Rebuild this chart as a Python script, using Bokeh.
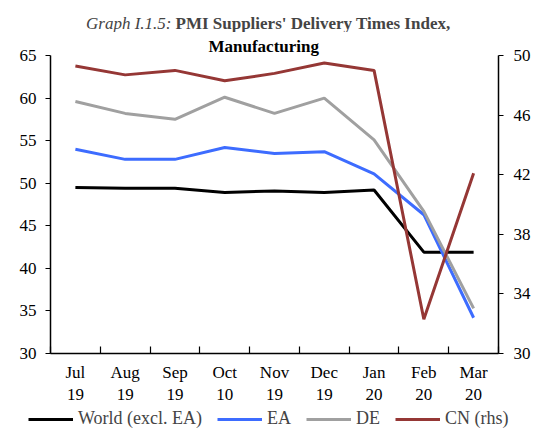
from bokeh.plotting import figure
from bokeh.layouts import column
from bokeh.models import Range1d, LinearAxis, FixedTicker, Legend, LegendItem, Label, Title
from bokeh.embed import file_html
from bokeh.resources import INLINE

months = ["Jul\n19", "Aug\n19", "Sep\n19", "Oct\n10", "Nov\n19", "Dec\n19", "Jan\n20", "Feb\n20", "Mar\n20"]
world = [49.5, 49.4, 49.4, 48.9, 49.1, 48.9, 49.2, 41.9, 41.9]
ea = [54.0, 52.8, 52.8, 54.2, 53.5, 53.7, 51.1, 46.3, 34.2]
de = [59.6, 58.2, 57.5, 60.1, 58.2, 60.0, 55.1, 46.7, 35.3]
cn = [49.3, 48.7, 49.0, 48.3, 48.8, 49.5, 49.0, 32.3, 42.1]
left_ticks = [30, 35, 40, 45, 50, 55, 60, 65]
right_ticks = [30, 34, 38, 42, 46, 50]
series_names = ["World (excl. EA)", "EA", "DE", "CN (rhs)"]
series_colors = ["black", "#3d6cff", "#a0a0a0", "#953735"]
series_values = [world, ea, de, cn]

FONT = "Liberation Serif"
FS = "17px"
xs = [i + 0.5 for i in range(len(months))]
bounds = list(range(len(months) + 1))

# ---- title strip (line 1) ----
tf = figure(width=538, height=32, output_backend="svg", toolbar_location=None,
            x_range=Range1d(50, 498), y_range=Range1d(0, 32), min_border=0)
tf.axis.visible = False
tf.grid.visible = False
tf.outline_line_color = None
tf.add_layout(Label(x=171, y=9, text="Graph I.1.5:", text_font=FONT, text_font_style="italic",
                    text_font_size=FS, text_baseline="middle", text_align="right"))
tf.add_layout(Label(x=175, y=9, text="PMI Suppliers' Delivery Times Index,", text_font=FONT,
                    text_font_style="bold", text_font_size=FS, text_baseline="middle", text_align="left"))

# ---- main chart ----
p = figure(frame_width=448, frame_height=298, output_backend="svg", toolbar_location=None,
           x_range=Range1d(0, len(months)), y_range=Range1d(30, 65),
           min_border_left=50, min_border_right=40, min_border_top=23, min_border_bottom=51)
p.title = Title(text="Manufacturing", text_font=FONT, text_font_style="bold", text_font_size=FS,
                align="left", offset=158, standoff=0, text_color="black")
p.extra_y_ranges = {"rhs": Range1d(30, 50)}
p.outline_line_color = None
p.xgrid.grid_line_color = None
p.ygrid.grid_line_color = None

xa = p.xaxis[0]
xa.ticker = FixedTicker(ticks=xs, minor_ticks=bounds)
xa.major_label_overrides = {x: m for x, m in zip(xs, months)}
xa.major_tick_in = 0
xa.major_tick_out = 0
xa.minor_tick_in = 7
xa.minor_tick_out = 0
xa.minor_tick_line_color = "black"
xa.axis_line_width = 1.5
xa.minor_tick_line_width = 1.2
xa.major_label_text_font = FONT
xa.major_label_text_font_size = FS
xa.major_label_text_color = "black"
xa.major_label_standoff = 9

ya = p.yaxis[0]
ya.ticker = FixedTicker(ticks=left_ticks)
ya.major_tick_in = 0
ya.major_tick_out = 5
ya.minor_tick_line_color = None
ya.axis_line_width = 1.5
ya.major_tick_line_width = 1.2
ya.major_label_text_font = FONT
ya.major_label_text_font_size = FS
ya.major_label_text_color = "black"
ya.major_label_standoff = 9

ra = LinearAxis(y_range_name="rhs", ticker=FixedTicker(ticks=right_ticks))
ra.major_tick_in = 0
ra.major_tick_out = 5
ra.minor_tick_line_color = None
ra.axis_line_width = 1.5
ra.major_tick_line_width = 1.2
ra.major_label_text_font = FONT
ra.major_label_text_font_size = FS
ra.major_label_text_color = "black"
ra.major_label_standoff = 10
p.add_layout(ra, "right")

for vals, col, name in zip(series_values, series_colors, series_names):
    kw = {"y_range_name": "rhs"} if name.endswith("(rhs)") else {}
    p.line(xs, vals, line_color=col, line_width=3, **kw)

# ---- legend strip ----
lf = figure(width=538, height=24, output_backend="svg", toolbar_location=None,
            x_range=Range1d(0, 1), y_range=Range1d(0, 1), min_border=0)
lf.axis.visible = False
lf.grid.visible = False
lf.outline_line_color = None
items = []
for vals, col, name in zip(series_values, series_colors, series_names):
    r = lf.line(xs, vals, line_color=col, line_width=3)  # lies outside this strip's range
    items.append(LegendItem(label=name, renderers=[r]))
legend = Legend(items=items, orientation="horizontal", location=(28, 2),
                label_text_font=FONT, label_text_font_size="18px",
                glyph_width=45, glyph_height=16, label_standoff=5, spacing=15,
                padding=0, margin=0, border_line_color=None, background_fill_alpha=0)
lf.add_layout(legend, "center")

layout = column(column(tf, p, spacing=0), lf, spacing=0)
open("out.html", "w").write(file_html(layout, INLINE))
